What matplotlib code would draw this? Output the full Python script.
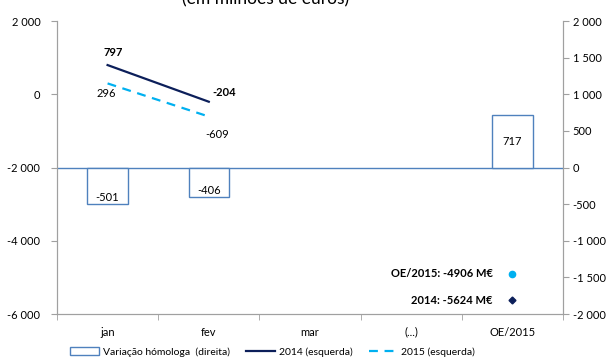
import matplotlib
matplotlib.use("Agg")
import matplotlib.pyplot as plt
from matplotlib.patches import Patch
from matplotlib.lines import Line2D
from matplotlib.ticker import FuncFormatter

plt.rcParams['font.family'] = ['Lato', 'DejaVu Sans']

# Data
categories = ["jan", "fev", "mar", "(...)", "OE/2015"]
var_homologa = [-501, -406, None, None, 717]   # right axis
s2014 = [797, -204]                            # left axis
s2015 = [296, -609]                            # left axis
oe2015_total = -4906
y2014_total = -5624

navy = "#0c1f5a"
light_blue = "#00b0f0"
bar_edge = "#4f81bd"
grey = "#a0a0a0"


def thousands(v, pos):
    return "{:,.0f}".format(v).replace(",", " ")


fig = plt.figure(figsize=(6.10, 3.59), dpi=100)
ax = fig.add_axes([0.0934, 0.1253, 0.8296, 0.8162])
ax2 = ax.twinx()

x = list(range(len(categories)))

# bars on the right axis
bx = [i for i, v in enumerate(var_homologa) if v is not None]
bv = [v for v in var_homologa if v is not None]
bars = ax2.bar(bx, bv, width=0.4, facecolor="white", edgecolor=bar_edge, linewidth=1.0, zorder=2)
ax2.axhline(0, color=bar_edge, linewidth=1.0, zorder=1)
for b, v in zip(bars, bv):
    cx = b.get_x() + b.get_width() / 2
    if v < 0:
        ax2.annotate(str(v), (cx, v), xytext=(0, 5), textcoords="offset points",
                     ha="center", va="center", fontsize=8)
    else:
        ax2.annotate(str(v), (cx, v / 2), ha="center", va="center", fontsize=8)

ax2.set_ylim(-2000, 2000)
ax2.set_yticks(range(-2000, 2001, 500))
ax2.yaxis.set_major_formatter(FuncFormatter(thousands))

# lines on the left axis
ax.set_zorder(ax2.get_zorder() + 1)
ax.patch.set_visible(False)
ax.plot(x[:2], s2014, color=navy, linewidth=1.6)
ax.plot(x[:2], s2015, color=light_blue, linewidth=1.6, linestyle=(0, (4, 3)))

ax.annotate(str(s2014[0]), (x[0], s2014[0]), xytext=(4, 9), textcoords="offset points",
            ha="center", va="center", fontsize=8, fontweight="bold")
ax.annotate(str(s2014[1]), (x[1], s2014[1]), xytext=(11, 7), textcoords="offset points",
            ha="center", va="center", fontsize=8, fontweight="bold")
ax.annotate(str(s2015[0]), (x[0], s2015[0]), xytext=(-1, -7), textcoords="offset points",
            ha="center", va="center", fontsize=8)
ax.annotate(str(s2015[1]), (x[1], s2015[1]), xytext=(6, -13), textcoords="offset points",
            ha="center", va="center", fontsize=8)

# annual totals
ax.plot([x[4]], [oe2015_total], marker="o", color=light_blue, markersize=4.5, linestyle="none")
ax.plot([x[4]], [y2014_total], marker="D", color=navy, markersize=3.5, linestyle="none")
ax.annotate("OE/2015: {} M€".format(oe2015_total), (x[4], oe2015_total), xytext=(-14, 0),
            textcoords="offset points", ha="right", va="center", fontsize=8, fontweight="bold")
ax.annotate("2014: {} M€".format(y2014_total), (x[4], y2014_total), xytext=(-14, 0),
            textcoords="offset points", ha="right", va="center", fontsize=8, fontweight="bold")

ax.set_ylim(-6000, 2000)
ax.set_yticks(range(-6000, 2001, 2000))
ax.yaxis.set_major_formatter(FuncFormatter(thousands))
ax.set_xlim(-0.5, 4.5)
ax.set_xticks(x)
ax.set_xticklabels(categories)
ax.set_xticks([i + 0.5 for i in range(-1, 5)], minor=True)
ax.tick_params(axis="x", which="major", length=0, pad=9, labelsize=8)
ax.tick_params(axis="x", which="minor", length=4, color=grey, direction="out")
ax.tick_params(axis="y", length=4, color=grey, labelsize=8, pad=8)
ax2.tick_params(axis="y", length=4, color=grey, labelsize=8, pad=3)

for a in (ax, ax2):
    a.spines["top"].set_visible(False)
    for s in ("left", "right", "bottom"):
        a.spines[s].set_color(grey)

fig.text(0.435, 1.003, "(em milhões de euros)", ha="center", va="center", fontsize=12.5)

handles = [
    Patch(facecolor="white", edgecolor=bar_edge, label="Variação hómologa  (direita)"),
    Line2D([], [], color=navy, linewidth=1.6, label="2014 (esquerda)"),
    Line2D([], [], color=light_blue, linewidth=1.6, linestyle=(0, (4, 3)), label="2015 (esquerda)"),
]
fig.legend(handles=handles, loc="center", bbox_to_anchor=(0.447, 0.02), ncol=3, frameon=False,
           fontsize=7.5, handlelength=2.8, handleheight=0.7, columnspacing=1.6, handletextpad=0.3)

fig.savefig("out.png", dpi=100)
